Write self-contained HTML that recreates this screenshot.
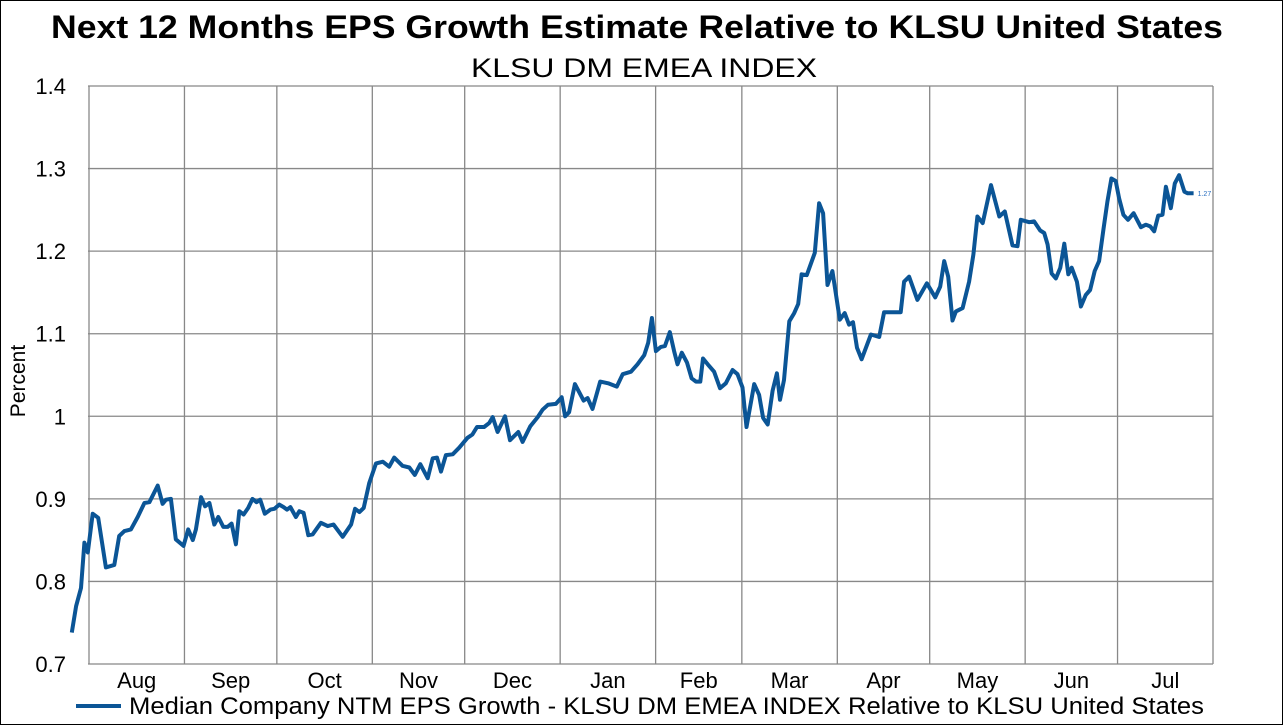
<!DOCTYPE html>
<html><head><meta charset="utf-8">
<style>
html,body{margin:0;padding:0;background:#fff;}
#wrap{position:relative;width:1283px;height:725px;box-sizing:border-box;border:1px solid #000;overflow:hidden;font-family:"Liberation Sans",Arial,sans-serif;}
svg{position:absolute;left:0;top:0;}
</style></head>
<body>
<div id="wrap">
<svg id="chart" width="1283" height="725">
<text x="50" y="37" textLength="1172" lengthAdjust="spacingAndGlyphs" font-size="32" font-weight="bold" fill="#000">Next 12 Months EPS Growth Estimate Relative to KLSU United States</text>
<text x="470" y="76" textLength="346" lengthAdjust="spacingAndGlyphs" font-size="27" fill="#000">KLSU DM EMEA INDEX</text>
<text transform="translate(24,380) rotate(-90)" text-anchor="middle" font-size="21" fill="#000">Percent</text>
<g id="grid"></g>
<g id="yticks"></g>
<g id="xticks"></g>
<path id="series" fill="none" stroke="#0b5596" stroke-width="4" stroke-linejoin="round"></path>
<text id="lastlabel" font-size="7" fill="#2a6fc0"></text>
<line x1="75" y1="705" x2="120" y2="705" stroke="#0b5596" stroke-width="4"/>
<text x="128" y="713" textLength="1075" lengthAdjust="spacingAndGlyphs" font-size="24" fill="#000">Median Company NTM EPS Growth - KLSU DM EMEA INDEX Relative to KLSU United States</text>
</svg>
</div>
<script>
const yTicks = [0.7,0.8,0.9,1.0,1.1,1.2,1.3,1.4];
const yTickLabels = ["0.7","0.8","0.9","1","1.1","1.2","1.3","1.4"];
const monthStarts = [0,31,61,92,122,153,184,212,243,273,304,334,365];
const monthLabels = ["Aug","Sep","Oct","Nov","Dec","Jan","Feb","Mar","Apr","May","Jun","Jul"];
const days = [-5.6,-4.2,-2.6,-1.5,-0.4,1.2,3.0,5.5,8.2,9.8,11.5,13.6,15.8,18.0,19.6,22.3,23.9,25.0,26.6,28.2,30.7,32.2,33.7,34.7,36.4,37.7,39.1,40.7,42.0,43.6,45.0,46.3,47.7,48.8,50.2,51.7,53.1,54.4,55.6,57.1,58.9,60.2,61.8,63.2,64.3,65.4,67.2,68.3,69.7,71.2,72.6,75.3,77.5,79.4,82.4,85.1,86.4,87.8,89.2,91.0,93.2,95.4,97.5,99.1,101.8,104.0,105.8,107.6,110.0,111.6,113.0,114.3,115.9,118.1,120.2,122.9,124.5,126.0,128.3,130.0,131.1,132.7,135.1,136.7,139.4,140.8,143.3,145.7,147.3,149.1,151.6,153.5,154.6,155.9,157.8,160.6,161.9,163.5,166.0,168.6,171.4,173.3,176.0,178.1,180.3,181.6,182.8,184.1,185.7,187.0,188.6,190.0,191.1,192.5,194.2,195.7,197.1,198.5,199.4,200.9,203.0,204.9,206.8,209.0,210.6,212.2,213.5,216.0,217.6,218.9,220.4,222.0,223.4,224.4,225.7,227.4,229.0,230.3,231.4,233.1,235.7,237.1,238.4,239.8,241.4,243.8,245.4,246.8,248.1,249.4,250.9,253.9,256.6,258.2,263.6,264.7,266.3,269.0,272.1,274.8,276.4,277.7,279.0,280.4,281.5,283.7,285.8,287.2,288.5,290.2,292.9,295.6,297.4,299.9,301.5,302.6,305.3,306.9,308.9,310.2,311.3,312.6,314.0,315.4,316.7,318.0,319.1,320.8,322.1,323.7,325.1,326.6,328.0,329.4,330.7,332.0,333.4,334.5,335.9,337.4,339.2,341.6,343.2,344.6,345.9,347.2,348.6,349.7,351.3,352.6,354.0,355.7,356.8,358.7];
const values = [0.738,0.770,0.792,0.847,0.835,0.882,0.877,0.817,0.820,0.855,0.861,0.863,0.878,0.895,0.896,0.916,0.894,0.899,0.900,0.851,0.843,0.863,0.850,0.863,0.902,0.891,0.895,0.869,0.878,0.866,0.866,0.870,0.845,0.885,0.881,0.889,0.900,0.896,0.899,0.882,0.887,0.888,0.893,0.890,0.887,0.890,0.878,0.885,0.883,0.856,0.857,0.871,0.867,0.869,0.854,0.869,0.888,0.884,0.889,0.919,0.943,0.945,0.939,0.950,0.940,0.938,0.929,0.942,0.925,0.949,0.950,0.933,0.953,0.954,0.962,0.974,0.978,0.987,0.987,0.992,0.999,0.981,1.000,0.971,0.981,0.969,0.988,0.999,1.008,1.014,1.015,1.023,1.000,1.005,1.039,1.019,1.022,1.009,1.042,1.040,1.036,1.051,1.054,1.063,1.074,1.089,1.119,1.079,1.084,1.085,1.102,1.079,1.063,1.077,1.065,1.046,1.042,1.042,1.070,1.063,1.054,1.034,1.040,1.056,1.051,1.035,0.987,1.039,1.026,0.998,0.990,1.031,1.052,1.020,1.044,1.115,1.125,1.136,1.172,1.171,1.198,1.258,1.246,1.159,1.176,1.117,1.125,1.111,1.114,1.083,1.069,1.099,1.096,1.126,1.126,1.163,1.169,1.141,1.161,1.144,1.157,1.188,1.169,1.116,1.127,1.131,1.163,1.196,1.242,1.234,1.280,1.242,1.248,1.207,1.206,1.238,1.235,1.236,1.225,1.222,1.208,1.173,1.167,1.180,1.209,1.172,1.180,1.163,1.133,1.147,1.153,1.176,1.188,1.226,1.260,1.288,1.285,1.264,1.244,1.238,1.246,1.229,1.232,1.230,1.224,1.243,1.244,1.278,1.252,1.282,1.292,1.272,1.270,1.270];
const lastLabel = "1.27";

const NS = "http://www.w3.org/2000/svg";
const plotLeft = 88, plotRight = 1212, plotTop = 85, plotBottom = 663;
function xScale(d){ return plotLeft + d * (plotRight - plotLeft) / 365; }
function yScale(v){ return plotBottom - (v - 0.7) * (plotBottom - plotTop) / 0.7; }
function mk(tag, attrs){ const e = document.createElementNS(NS, tag); for (const k in attrs) e.setAttribute(k, attrs[k]); return e; }

const grid = document.getElementById('grid');
const yt = document.getElementById('yticks');
yTicks.forEach((v,i)=>{
  const y = yScale(v);
  const l = mk('line',{x1:plotLeft-1,x2:plotRight,y1:y,y2:y,stroke:'#888','stroke-width':1.3});
  
  
  grid.appendChild(l);
  const t = mk('text',{x:65,y:y+8,'text-anchor':'end','font-size':22,fill:'#000'});
  t.textContent = yTickLabels[i];
  
  
  yt.appendChild(t);
});
const xt = document.getElementById('xticks');
monthStarts.forEach((d,i)=>{
  const x = xScale(d);
  const l = mk('line',{x1:x,x2:x,y1:plotTop,y2:plotBottom,stroke:'#888','stroke-width':1.3});
  
  
  grid.appendChild(l);
  if (i < monthLabels.length) {
    const xm = (xScale(d) + xScale(monthStarts[i+1])) / 2;
    const t = mk('text',{x:xm,y:687,'text-anchor':'middle','font-size':22,fill:'#000'});
    t.textContent = monthLabels[i];
    
    
    xt.appendChild(t);
  }
});
let dstr = '';
days.forEach((d,i)=>{ dstr += (i ? 'L' : 'M') + xScale(d).toFixed(1) + ',' + yScale(values[i]).toFixed(1); });
document.getElementById('series').setAttribute('d', dstr);
const ll = document.getElementById('lastlabel');
ll.setAttribute('x', xScale(days[days.length-1]) + 4);
ll.setAttribute('y', yScale(values[values.length-1]) + 2.5);
ll.textContent = lastLabel;
</script>
</body></html>
